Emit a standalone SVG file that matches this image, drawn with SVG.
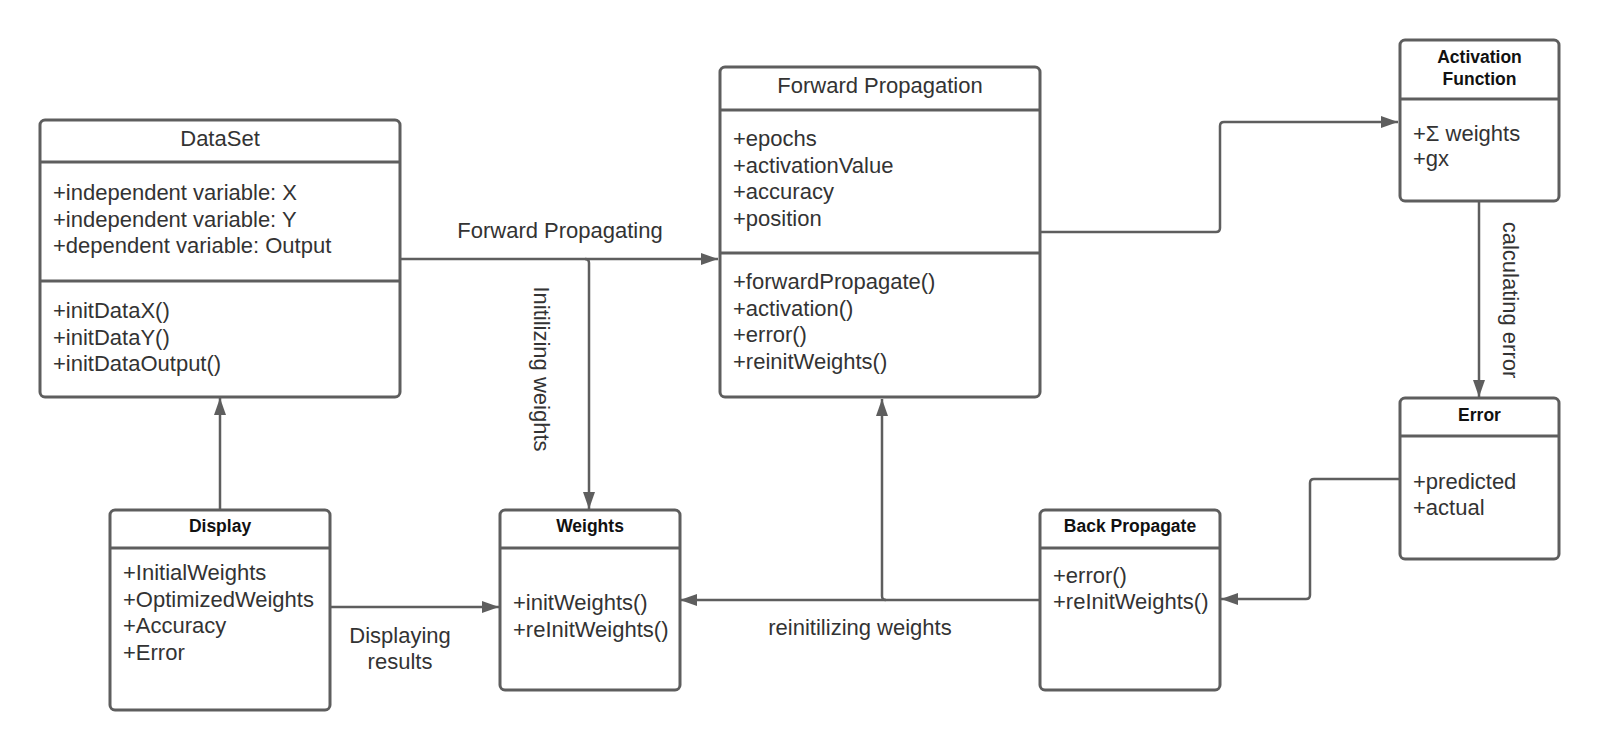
<svg xmlns="http://www.w3.org/2000/svg" width="1600" height="750" viewBox="0 0 1600 750">
<style>
.box{fill:#fff;stroke:#5e5e5e;stroke-width:3}
.div{stroke:#5e5e5e;stroke-width:3}
.t{font-family:"Liberation Sans",Arial,sans-serif;font-size:22px;fill:#333}
.c{text-anchor:middle}
.b{font-family:"Liberation Sans",Arial,sans-serif;font-size:17.5px;font-weight:bold;fill:#111;text-anchor:middle}
.ln{fill:none;stroke:#5e5e5e;stroke-width:2.5}
</style>
<defs>
<marker id="ah" viewBox="0 0 17 12" refX="17" refY="6" markerWidth="17" markerHeight="12" markerUnits="userSpaceOnUse" orient="auto">
<path d="M0,0 L17,6 L0,12 Z" fill="#5e5e5e"/>
</marker>
</defs>
<rect width="1600" height="750" fill="#fff"/>

<g id="connectors">
<path class="ln" d="M400,259 H718" marker-end="url(#ah)"/>
<path class="ln" d="M585,259 Q589,259 589,263 V509" marker-end="url(#ah)"/>
<path class="ln" d="M1040,232 H1216 Q1220,232 1220,228 V126 Q1220,122 1224,122 H1398" marker-end="url(#ah)"/>
<path class="ln" d="M1479,201 V397" marker-end="url(#ah)"/>
<path class="ln" d="M1399,479 H1314 Q1310,479 1310,483 V595 Q1310,599 1306,599 H1221" marker-end="url(#ah)"/>
<path class="ln" d="M1040,600 H680" marker-end="url(#ah)"/>
<path class="ln" d="M886,600 Q882,600 882,596 V399" marker-end="url(#ah)"/>
<path class="ln" d="M220,510 V398" marker-end="url(#ah)"/>
<path class="ln" d="M330,607 H499" marker-end="url(#ah)"/>
<text class="t c" x="560" y="238">Forward Propagating</text>
<text class="t c" transform="translate(542,369) rotate(90)" dy="0.35em">Initilizing weights</text>
<text class="t c" transform="translate(1511,300) rotate(90)" dy="0.35em">calculating error</text>
<text class="t c" x="860" y="635">reinitilizing weights</text>
<text class="t c" x="400" y="643">Displaying</text>
<text class="t c" x="400" y="669">results</text>
</g>

<g id="dataset">
<rect class="box" x="40" y="120" width="360" height="277" rx="5"/>
<line class="div" x1="40" y1="162" x2="400" y2="162"/>
<line class="div" x1="40" y1="281" x2="400" y2="281"/>
<text class="t c" x="220" y="146">DataSet</text>
<text class="t" x="53" y="200">+independent variable: X</text>
<text class="t" x="53" y="226.5">+independent variable: Y</text>
<text class="t" x="53" y="253">+dependent variable: Output</text>
<text class="t" x="53" y="318">+initDataX()</text>
<text class="t" x="53" y="344.5">+initDataY()</text>
<text class="t" x="53" y="371">+initDataOutput()</text>
</g>

<g id="forward-propagation">
<rect class="box" x="720" y="67" width="320" height="330" rx="5"/>
<line class="div" x1="720" y1="110" x2="1040" y2="110"/>
<line class="div" x1="720" y1="253" x2="1040" y2="253"/>
<text class="t c" x="880" y="93">Forward Propagation</text>
<text class="t" x="733" y="146">+epochs</text>
<text class="t" x="733" y="172.5">+activationValue</text>
<text class="t" x="733" y="199">+accuracy</text>
<text class="t" x="733" y="225.5">+position</text>
<text class="t" x="733" y="289">+forwardPropagate()</text>
<text class="t" x="733" y="315.5">+activation()</text>
<text class="t" x="733" y="342">+error()</text>
<text class="t" x="733" y="368.5">+reinitWeights()</text>
</g>

<g id="activation-function">
<rect class="box" x="1400" y="40" width="159" height="161" rx="5"/>
<line class="div" x1="1400" y1="99" x2="1559" y2="99"/>
<text class="b" x="1479.5" y="63">Activation</text>
<text class="b" x="1479.5" y="85">Function</text>
<text class="t" x="1413" y="141">+Σ weights</text>
<text class="t" x="1413" y="166">+gx</text>
</g>

<g id="error">
<rect class="box" x="1400" y="398" width="159" height="161" rx="5"/>
<line class="div" x1="1400" y1="436" x2="1559" y2="436"/>
<text class="b" x="1479.5" y="421">Error</text>
<text class="t" x="1413" y="489">+predicted</text>
<text class="t" x="1413" y="515">+actual</text>
</g>

<g id="display">
<rect class="box" x="110" y="510" width="220" height="200" rx="5"/>
<line class="div" x1="110" y1="548" x2="330" y2="548"/>
<text class="b" x="220" y="532">Display</text>
<text class="t" x="123" y="580">+InitialWeights</text>
<text class="t" x="123" y="606.5">+OptimizedWeights</text>
<text class="t" x="123" y="633">+Accuracy</text>
<text class="t" x="123" y="659.5">+Error</text>
</g>

<g id="weights">
<rect class="box" x="500" y="510" width="180" height="180" rx="5"/>
<line class="div" x1="500" y1="548" x2="680" y2="548"/>
<text class="b" x="590" y="532">Weights</text>
<text class="t" x="513" y="610">+initWeights()</text>
<text class="t" x="513" y="636.5">+reInitWeights()</text>
</g>

<g id="back-propagate">
<rect class="box" x="1040" y="510" width="180" height="180" rx="5"/>
<line class="div" x1="1040" y1="548" x2="1220" y2="548"/>
<text class="b" x="1130" y="532">Back Propagate</text>
<text class="t" x="1053" y="583">+error()</text>
<text class="t" x="1053" y="609">+reInitWeights()</text>
</g>
</svg>
